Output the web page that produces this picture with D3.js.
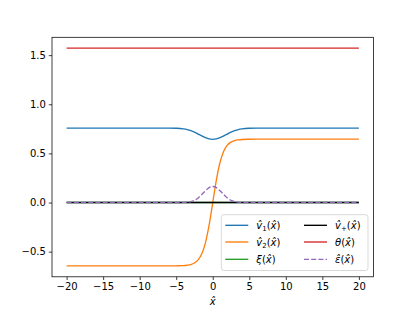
<!DOCTYPE html>
<html>
<head>
<meta charset="utf-8">
<script src="https://cdn.jsdelivr.net/npm/d3@7"></script>
<style>
  body { margin: 0; background: #fff; }
  text { font-family: "DejaVu Sans", sans-serif; }
</style>
</head>
<body>
<svg id="chart" width="415" height="311"></svg>
<script>
// values
var xs    = [-20, -15, -10, -6, -5, -4, -3.5, -3, -2.5, -2, -1.5, -1, -0.5, 0, 0.5, 1, 1.5, 2, 2.5, 3, 3.5, 4, 5, 6, 10, 15, 20];
var v1    = [0.758, 0.758, 0.758, 0.758, 0.756, 0.749, 0.742, 0.731, 0.716, 0.697, 0.678, 0.660, 0.647, 0.643, 0.647, 0.660, 0.678, 0.697, 0.716, 0.731, 0.742, 0.749, 0.756, 0.758, 0.758, 0.758, 0.758];
var v2    = [-0.645, -0.645, -0.645, -0.645, -0.644, -0.642, -0.638, -0.631, -0.615, -0.584, -0.522, -0.410, -0.231, 0, 0.231, 0.410, 0.522, 0.584, 0.615, 0.631, 0.638, 0.642, 0.644, 0.645, 0.645, 0.645, 0.645];
var xi    = [0, 0, 0, 0, 0, 0, 0, 0, 0, 0, 0, 0, 0, 0, 0, 0, 0, 0, 0, 0, 0, 0, 0, 0, 0, 0, 0];
var vPlus = [0, 0, 0, 0, 0, 0, 0, 0, 0, 0, 0, 0, 0, 0, 0, 0, 0, 0, 0, 0, 0, 0, 0, 0, 0, 0, 0];
var theta = [1.5708, 1.5708, 1.5708, 1.5708, 1.5708, 1.5708, 1.5708, 1.5708, 1.5708, 1.5708, 1.5708, 1.5708, 1.5708, 1.5708, 1.5708, 1.5708, 1.5708, 1.5708, 1.5708, 1.5708, 1.5708, 1.5708, 1.5708, 1.5708, 1.5708, 1.5708, 1.5708];
var eps   = [0, 0, 0, 0, 0, 0.001, 0.004, 0.010, 0.023, 0.047, 0.081, 0.119, 0.151, 0.163, 0.151, 0.119, 0.081, 0.047, 0.023, 0.010, 0.004, 0.001, 0, 0, 0, 0, 0];

var xTicks = [-20, -15, -10, -5, 0, 5, 10, 15, 20];
var yTicks = [-0.5, 0, 0.5, 1.0, 1.5];

var series = [
    { label: "v1",  values: v1,    color: "#1f77b4", dash: null },
    { label: "v2",  values: v2,    color: "#ff7f0e", dash: null },
    { label: "xi",  values: xi,    color: "#2ca02c", dash: null },
    { label: "vp",  values: vPlus, color: "#000000", dash: null },
    { label: "th",  values: theta, color: "#d62728", dash: null },
    { label: "eps", values: eps,   color: "#9467bd", dash: "5,2.2" }
];

var plotLeft = 52, plotRight = 373.5, plotTop = 37.3, plotBottom = 276.8;
var svg = d3.select("#chart");

var pad = function(ext) {
    var r = ext[1] - ext[0];
    return [ext[0] - 0.05 * r, ext[1] + 0.05 * r];
};
var allY = d3.merge(series.map(function(s) { return s.values; }));

var x = d3.scaleLinear().domain(pad(d3.extent(xs))).range([plotLeft, plotRight]);
var y = d3.scaleLinear().domain(pad(d3.extent(allY))).range([plotBottom, plotTop]);

var line = function(vals) {
    return d3.line()
        .x(function(d, i) { return x(xs[i]); })
        .y(function(d) { return y(d); })
        .curve(d3.curveMonotoneX)(vals);
};

var fmtMinus = function(s) { return s.replace("-", "\u2212"); };

// axes
var xAxis = svg.append("g")
    .attr("transform", "translate(0," + plotBottom + ")")
    .call(d3.axisBottom(x).tickValues(xTicks).tickSizeOuter(0).tickSize(3.2).tickPadding(3)
        .tickFormat(function(d) { return fmtMinus(d3.format("d")(d)); }));
var yAxis = svg.append("g")
    .attr("transform", "translate(" + plotLeft + ",0)")
    .call(d3.axisLeft(y).tickValues(yTicks).tickSizeOuter(0).tickSize(3.2).tickPadding(3)
        .tickFormat(function(d) { return fmtMinus(d3.format(".1f")(d)); }));
[xAxis, yAxis].forEach(function(a) {
    a.select(".domain").remove();
    a.selectAll(".tick line").attr("stroke", "#000").attr("stroke-width", 0.75);
    a.selectAll(".tick text").attr("font-size", 10).attr("fill", "#000")
        .attr("font-family", "DejaVu Sans");
});

svg.append("text")
    .attr("x", x(0)).attr("y", 305)
    .attr("text-anchor", "middle")
    .attr("font-size", 10).attr("font-style", "italic")
    .text("x\u0302");

// lines
svg.append("clipPath").attr("id", "clip").append("rect")
    .attr("x", plotLeft).attr("y", plotTop)
    .attr("width", plotRight - plotLeft).attr("height", plotBottom - plotTop);

svg.append("g").attr("clip-path", "url(#clip)")
    .selectAll("path")
    .data(series)
  .enter()
    .append("path")
    .attr("d", function(d) { return line(d.values); })
    .attr("fill", "none")
    .attr("stroke", function(d) { return d.color; })
    .attr("stroke-width", 1.35)
    .attr("stroke-dasharray", function(d) { return d.dash; });

// frame
svg.append("rect")
    .attr("x", plotLeft).attr("y", plotTop)
    .attr("width", plotRight - plotLeft).attr("height", plotBottom - plotTop)
    .attr("fill", "none").attr("stroke", "#000").attr("stroke-width", 0.75);

// legend
var legendItems = [
    { s: 0, col: 0, row: 0, parts: [["v\u0302", true], ["1", "sub"], ["(", false], ["x\u0302", true], [")", false]] },
    { s: 1, col: 0, row: 1, parts: [["v\u0302", true], ["2", "sub"], ["(", false], ["x\u0302", true], [")", false]] },
    { s: 2, col: 0, row: 2, parts: [["\u03be", true], ["(", false], ["x\u0302", true], [")", false]] },
    { s: 3, col: 1, row: 0, parts: [["v\u0302", true], ["+", "sub"], ["(", false], ["x\u0302", true], [")", false]] },
    { s: 4, col: 1, row: 1, parts: [["\u03b8", true], ["(", false], ["x\u0302", true], [")", false]] },
    { s: 5, col: 1, row: 2, parts: [["\u03b5\u0302", true], ["(", false], ["x\u0302", true], [")", false]] }
];

var lg = svg.append("g");
lg.append("rect")
    .attr("x", 221.3).attr("y", 214.7).attr("width", 146.7).attr("height", 55.8)
    .attr("rx", 2.5)
    .attr("fill", "#fff").attr("fill-opacity", 0.8)
    .attr("stroke", "#cccccc").attr("stroke-width", 0.75);

var colX = [225.3, 304];
var rowY = [225.3, 242, 259.3];

var items = lg.selectAll(".item")
    .data(legendItems)
  .enter()
    .append("g")
    .attr("class", "item")
    .attr("transform", function(d) {
        return "translate(" + colX[d.col] + "," + rowY[d.row] + ")";
    });

items.append("line")
    .attr("x1", 0).attr("x2", 23).attr("y1", 0).attr("y2", 0)
    .attr("stroke", function(d) { return series[d.s].color; })
    .attr("stroke-width", 1.35)
    .attr("stroke-dasharray", function(d) { return series[d.s].dash; });

items.append("text")
    .attr("x", 31).attr("y", 3.6)
    .attr("font-size", 10)
    .each(function(d) {
        var t = d3.select(this);
        d.parts.forEach(function(p, i) {
            var ts = t.append("tspan").text(p[0]);
            if (p[1] === true) ts.attr("font-style", "italic");
            if (p[1] === "sub") ts.attr("font-size", 7).attr("dy", 2.2);
            else if (i > 0 && d.parts[i - 1][1] === "sub") ts.attr("dy", -2.2);
        });
    });
</script>
</body>
</html>
